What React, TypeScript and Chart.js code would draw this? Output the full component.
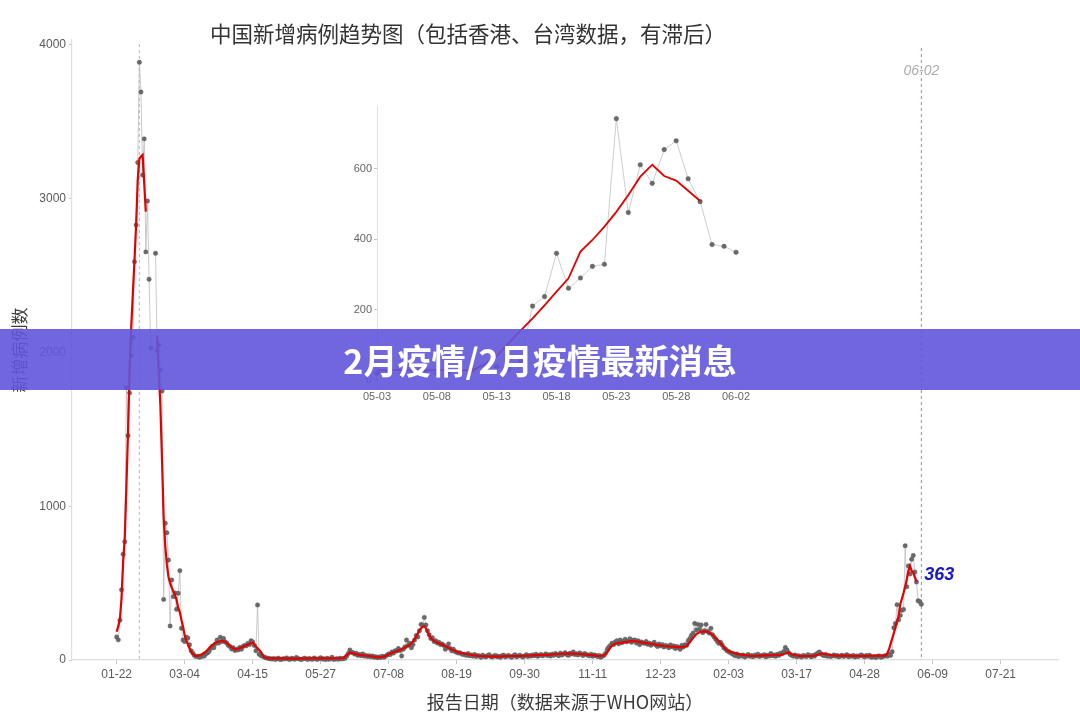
import React, { useEffect, useRef } from 'react';
import { Chart, registerables } from 'chart.js';

Chart.register(...registerables);

// ---------- texts ----------
const chartTitle = '中国新增病例趋势图（包括香港、台湾数据，有滞后）';
const xAxisTitle = '报告日期（数据来源于WHO网站）';
const yAxisTitle = '新增病例数';
const bannerText = '2月疫情/2月疫情最新消息';

// ---------- axes / ticks (x values are days since 2020-01-22) ----------
const mainTickDays = [0, 42, 84, 126, 168, 210, 252, 294, 336, 378, 420, 462, 504, 546];
const mainTickLabels = ['01-22', '03-04', '04-15', '05-27', '07-08', '08-19', '09-30', '11-11', '12-23', '02-03', '03-17', '04-28', '06-09', '07-21'];
const mainYTicks = [0, 1000, 2000, 3000, 4000];
const insetTickDays = [467, 472, 477, 482, 487, 492, 497];
const insetTickLabels = ['05-03', '05-08', '05-13', '05-18', '05-23', '05-28', '06-02'];
const insetYTicks = [0, 200, 400, 600];

const peakMarkerDay = 14;
const lastReportDay = 497;
const lastReportLabel = '06-02';
const lastReportValue = 363;

// ---------- daily new cases (grey points), by period ----------
const wave2020Start = 0;
const wave2020 = [150, 131, 259, 457, 688, 769, 1771, 1459, 1737, 1981, 2099, 2590, 2829, 3235, 3887, 3694, 3154, 3389, 2654, 2985, 2476, 2027, null, null, 2645, 2012, 2048, 1886, 1749, 394, 889, 828, 650, 221, 520, 412, 436, 330, 434, 581, 206, 130, 120, 148];
const spring2020Start = 44;
const spring2020 = [143, 99, 60, 45, 30, 22, 25, 18, 20, 28, 25, 40, 45, 55, 75, 90, 80, 105, 130, 110, 148, 120, 140, 118, 110, 95, 88, 72, 80, 62, 70, 65, 82, 70, 88, 95, 92, 108, 100, 125, 118, 95, 60, 358, 38, 30, 25, 20, 15, 12, 10, 8];
const flat2020Start = 96;
const flat2020 = [6, 10, 4, 8, 12, 3, 5, 9, 7, 14, 6, 4, 11, 8, 5, 17, 9, 6, 3, 7, 12, 8, 4, 10, 6, 5, 13, 7, 4, 9, 15, 6, 8, 3, 11, 5, 7, 18, 4, 6, 9, 5, 12, 7, 10];
const summer2020Start = 141;
const summer2020 = [11, 25, 42, 65, 50, 48, 38, 44, 30, 36, 28, 40, 25, 30, 22, 28, 20, 26, 18, 22, 15, 20, 16, 25, 18, 24, 32, 40, 35, 52, 45, 60, 58, 75, 62];
const hkWave2020Start = 176;
const hkWave2020 = [26, 70, 85, 130, 95, 110, 80, 100, 130, 160, 150, 190, 232, 227, 277, 228, 190, 165, 140, 145, 120, 125, 110, 115, 100, 105, 95, 70, 85, 105, 75, 60, 70, 55, 50, 45, 48, 40, 35, 38, 30, 42, 28, 33, 25, 36, 22, 30, 26, 18, 32, 24, 20, 28, 35, 22, 19, 26, 30, 21, 25, 17, 28, 32, 20];
const autumn2020Start = 241;
const autumn2020 = [25, 30, 22, 18, 28, 34, 20, 26, 31, 24, 19, 27, 35, 22, 30, 26, 33, 28, 38, 24, 30, 36, 27, 32, 40, 29, 34, 26, 38, 31, 42, 35, 28, 45, 33, 40, 48, 36, 30, 44, 39, 52, 35, 41, 33, 46, 38, 29, 42, 36, 31, 27, 38, 24, 33, 29, 22, 30, 18, 25];
const winter2020Start = 301;
const winter2020 = [30, 45, 70, 85, 95, 110, 100, 118, 125, 105, 130, 112, 120, 135, 118, 125, 138, 115, 128, 130, 110, 125, 100, 118, 112, 108, 120, 102, 110, 96, 105, 115, 98, 88, 104, 92, 100, 85, 95, 90, 80, 98, 86, 92, 75, 88, 80, 70, 95, 85];
const hebei2021Start = 351;
const hebei2021 = [100, 95, 125, 140, 160, 175, 238, 195, 232, 200, 228, 178, 190, 232, 185, 175, 206, 165, 150, 135, 120, 108, 115, 98, 80, 72, 60, 55, 48, 42];
const spring2021Start = 381;
const spring2021 = [35, 28, 40, 22, 30, 25, 33, 19, 27, 36, 24, 29, 21, 32, 26, 38, 23, 30, 27, 35, 20, 31, 26, 42, 28, 33, 24, 37, 30, 45, 40, 55, 82, 65, 48, 36, 30, 25, 33, 21, 28, 24, 19, 30, 26, 22, 35, 28, 20, 31, 25, 38, 45, 52, 40, 33, 28, 36, 24, 30, 22, 27, 33, 25, 29, 20, 26, 31, 23, 28, 35, 21, 27, 24, 30, 19, 26, 22, 28, 33, 25, 20, 29, 24, 31, 18];
const may2021Start = 467;
const may2021 = [19, 22, 16, 24, 27, 18, 21, 26, 28, 25, 38, 30, 54, 210, 237, 360, 261, 290, 323, 329, 743, 476, 612, 559, 655, 680, 572, 507, 385, 380, 363];

// ---------- smoothed trend (red line): [day, value] ----------
const trendPoints: [number, number | null][] = [
  [0, 184], [1, 220], [2, 270], [3, 400], [4, 640], [5, 800], [6, 1130], [7, 1480], [8, 1900], [9, 2170],
  [10, 2390], [11, 2600], [12, 2830], [13, 3120], [14, 3260], [15, 3275], [16, 3285], [17, 3100], [18, 2916],
  [21, null],
  [25, 2107], [26, 1880], [27, 1650], [28, 1300], [29, 930], [30, 740], [31, 620], [32, 540], [33, 500], [34, 470],
  [35, 445], [36, 425], [37, 390], [38, 340], [39, 310], [40, 260], [41, 217], [42, 160], [43, 130], [44, 100],
  [45, 75], [46, 54], [47, 40], [48, 30], [49, 26], [50, 27], [52, 33], [55, 54], [58, 87], [61, 113],
  [63, 120], [65, 124], [67, 119], [70, 91], [73, 69], [74, 70], [76, 76], [79, 91], [82, 104], [84, 113],
  [86, 87], [89, 54], [91, 17], [94, 11], [100, 10], [110, 9], [120, 11], [130, 10], [140, 12],
  [143, 40], [144, 48], [146, 43], [150, 33], [156, 26], [162, 17], [165, 22], [168, 38], [171, 50], [175, 65],
  [178, 80], [181, 98], [183, 120], [185, 152], [187, 195], [189, 217], [190, 220], [191, 205], [193, 160], [194, 141],
  [196, 125], [198, 113], [201, 100], [204, 85], [207, 68], [210, 54], [213, 45], [216, 39], [220, 32], [224, 26],
  [229, 24], [234, 22], [238, 24], [243, 26], [249, 26], [257, 30], [262, 33], [268, 35], [273, 39], [278, 43],
  [282, 41], [286, 39], [292, 33], [298, 26], [301, 30], [303, 50], [305, 82], [306, 95], [308, 106], [310, 111],
  [313, 115], [316, 120], [319, 124], [322, 119], [325, 113], [328, 108], [331, 104], [334, 97], [338, 91], [341, 88],
  [344, 87], [347, 84], [349, 82], [352, 91], [354, 115], [355, 130], [357, 155], [358, 169], [360, 180], [361, 184],
  [363, 186], [365, 184], [367, 172], [368, 163], [370, 142], [372, 122], [374, 95], [376, 70], [378, 57], [381, 48],
  [384, 38], [387, 33], [393, 26], [397, 28], [401, 30], [405, 31], [410, 33], [413, 42], [415, 48], [416, 42],
  [418, 33], [422, 26], [426, 26], [430, 26], [433, 33], [436, 43], [439, 36], [442, 30], [447, 29], [451, 28],
  [455, 27], [459, 26], [463, 27], [467, 28], [475, 28], [476, 45], [477, 68], [478, 105], [479, 140], [480, 175],
  [481, 212], [482, 251], [483, 289], [484, 365], [485, 398], [486, 436], [487, 478], [488, 526], [489, 578], [490, 612],
  [491, 580], [492, 567], [493, 538], [494, 509],
];

// ---------- build datasets ----------
const dailySegments: [number, (number | null)[]][] = [
  [wave2020Start, wave2020], [spring2020Start, spring2020], [flat2020Start, flat2020],
  [summer2020Start, summer2020], [hkWave2020Start, hkWave2020], [autumn2020Start, autumn2020],
  [winter2020Start, winter2020], [hebei2021Start, hebei2021], [spring2021Start, spring2021],
  [may2021Start, may2021],
];
const dailyPoints = dailySegments.flatMap(([start, vals]) => vals.map((v, i) => ({ x: start + i, y: v })));
const trendData = trendPoints.map(([x, y]) => ({ x, y }));
const insetDaily = may2021.map((v, i) => ({ x: may2021Start + i, y: v }));
const insetTrend = trendPoints.filter(([d]) => d >= may2021Start).map(([x, y]) => ({ x, y }));

const TICK_FONT = 'Liberation Sans';
const CJK_FONT = '"Noto Sans CJK SC", "Noto Sans", sans-serif';
const RED = 'rgb(226,0,0)';
const GREY_LINE = 'rgba(188,188,188,1)';
const GREY_POINT = '#6a6a6a';

const mainDecor = {
  id: 'mainDecor',
  beforeDatasetsDraw(chart: any) {
    const { ctx, chartArea, scales } = chart;
    const x = scales.x;
    ctx.save();
    ctx.lineWidth = 1;
    ctx.setLineDash([3, 3]);
    ctx.strokeStyle = '#b8b8b8';
    const px = x.getPixelForValue(peakMarkerDay);
    ctx.beginPath();
    ctx.moveTo(px, chartArea.top + 4);
    ctx.lineTo(px, chartArea.bottom);
    ctx.stroke();
    ctx.strokeStyle = 'rgb(140,130,240)';
    const bx = x.getPixelForValue(lastReportDay);
    ctx.beginPath();
    ctx.moveTo(bx, chartArea.top + 8);
    ctx.lineTo(bx, chartArea.bottom);
    ctx.stroke();
    ctx.restore();
  },
  afterDraw(chart: any) {
    const { ctx, chartArea, scales } = chart;
    const x = scales.x;
    const y = scales.y;
    ctx.save();
    // title
    ctx.fillStyle = '#333';
    ctx.font = `21.5px ${CJK_FONT}`;
    ctx.textAlign = 'center';
    ctx.textBaseline = 'middle';
    ctx.fillText(chartTitle, 468, 34);
    // x title
    ctx.font = `18px ${CJK_FONT}`;
    ctx.fillStyle = '#3a3a3a';
    ctx.fillText(xAxisTitle, (chartArea.left + chartArea.right) / 2, 702);
    // y title
    ctx.save();
    ctx.translate(20, (chartArea.top + chartArea.bottom) / 2);
    ctx.rotate(-Math.PI / 2);
    ctx.font = `17px ${CJK_FONT}`;
    ctx.fillText(yAxisTitle, 0, 0);
    ctx.restore();
    // last-report date label
    const bx = x.getPixelForValue(lastReportDay);
    ctx.font = `italic 14px ${TICK_FONT}`;
    ctx.fillStyle = '#acacac';
    ctx.textAlign = 'center';
    ctx.fillText(lastReportLabel, bx, chartArea.top + 31);
    // last value label
    ctx.font = `italic bold 18px ${TICK_FONT}`;
    ctx.fillStyle = 'rgb(24,24,205)';
    ctx.textAlign = 'left';
    ctx.fillText(String(lastReportValue), bx + 3, y.getPixelForValue(lastReportValue) - 29);
    ctx.restore();
  },
};

function MainChart() {
  const ref = useRef<HTMLCanvasElement | null>(null);
  useEffect(() => {
    if (!ref.current) return;
    const chart = new Chart(ref.current, {
      type: 'line',
      data: {
        datasets: [
          {
            label: 'trend',
            data: trendData as any,
            borderColor: RED,
            borderWidth: 2.2,
            pointRadius: 0,
            tension: 0,
            spanGaps: false,
            order: 0,
            clip: false as any,
          },
          {
            label: 'daily',
            data: dailyPoints as any,
            borderColor: GREY_LINE,
            borderWidth: 0.8,
            pointRadius: 2.2,
            pointBackgroundColor: GREY_POINT,
            pointBorderColor: '#555',
            pointBorderWidth: 0.4,
            tension: 0,
            spanGaps: false,
            order: 1,
            clip: false as any,
          },
        ],
      },
      options: {
        animation: false,
        responsive: false,
        maintainAspectRatio: false,
        events: [],
        layout: { padding: { left: 0, right: 22, top: 40, bottom: 0 } },
        plugins: { legend: { display: false }, tooltip: { enabled: false }, title: { display: false } },
        scales: {
          x: {
            type: 'linear',
            min: -27.6,
            max: 581.4,
            afterBuildTicks: (s: any) => { s.ticks = mainTickDays.map((v) => ({ value: v })); },
            afterFit: (s: any) => { s.height = 60; },
            grid: { drawOnChartArea: false, drawTicks: true, tickLength: 4, color: '#c4c4c4' },
            border: { color: '#dedede', width: 1.2 },
            ticks: {
              autoSkip: false,
              maxRotation: 0,
              padding: 3,
              color: '#5a5a5a',
              font: { family: TICK_FONT, size: 12 },
              callback: (v: any) => mainTickLabels[mainTickDays.indexOf(Number(v))] ?? '',
            },
          },
          y: {
            type: 'linear',
            min: 0,
            max: 4032,
            afterBuildTicks: (s: any) => { s.ticks = mainYTicks.map((v) => ({ value: v })); },
            afterFit: (s: any) => { s.width = 72; },
            grid: { drawOnChartArea: false, drawTicks: true, tickLength: 3, color: '#c4c4c4' },
            border: { color: '#dedede', width: 1.2 },
            ticks: {
              padding: 3,
              color: '#5a5a5a',
              font: { family: TICK_FONT, size: 12 },
              callback: (v: any) => String(v),
            },
          },
        },
      },
      plugins: [mainDecor],
    });
    return () => chart.destroy();
  }, []);
  return <canvas ref={ref} width={1080} height={720} style={{ position: 'absolute', left: 0, top: 0, width: 1080, height: 720 }} />;
}

function InsetChart() {
  const ref = useRef<HTMLCanvasElement | null>(null);
  useEffect(() => {
    if (!ref.current) return;
    const chart = new Chart(ref.current, {
      type: 'line',
      data: {
        datasets: [
          {
            label: 'trend',
            data: insetTrend as any,
            borderColor: RED,
            borderWidth: 1.8,
            pointRadius: 0,
            tension: 0,
            order: 0,
            clip: false as any,
          },
          {
            label: 'daily',
            data: insetDaily as any,
            borderColor: 'rgba(192,192,192,1)',
            borderWidth: 0.8,
            pointRadius: 2.3,
            pointBackgroundColor: GREY_POINT,
            pointBorderColor: '#555',
            pointBorderWidth: 0.4,
            tension: 0,
            order: 1,
            clip: false as any,
          },
        ],
      },
      options: {
        animation: false,
        responsive: false,
        maintainAspectRatio: false,
        events: [],
        layout: { padding: { left: 0, right: 12, top: 11, bottom: 0 } },
        plugins: { legend: { display: false }, tooltip: { enabled: false }, title: { display: false } },
        scales: {
          x: {
            type: 'linear',
            min: 467,
            max: 498,
            afterBuildTicks: (s: any) => { s.ticks = insetTickDays.map((v) => ({ value: v })); },
            afterFit: (s: any) => { s.height = 28; },
            grid: { drawOnChartArea: false, drawTicks: true, tickLength: 3, color: '#c4c4c4' },
            border: { color: '#e2e2e2', width: 1 },
            ticks: {
              autoSkip: false,
              maxRotation: 0,
              padding: 0,
              color: '#666',
              font: { family: TICK_FONT, size: 11 },
              callback: (v: any) => insetTickLabels[insetTickDays.indexOf(Number(v))] ?? '',
            },
          },
          y: {
            type: 'linear',
            min: -20,
            max: 779,
            afterBuildTicks: (s: any) => { s.ticks = insetYTicks.map((v) => ({ value: v })); },
            afterFit: (s: any) => { s.width = 57; },
            grid: { drawOnChartArea: false, drawTicks: true, tickLength: 3, color: '#c4c4c4' },
            border: { color: '#e2e2e2', width: 1 },
            ticks: {
              padding: 2,
              color: '#666',
              font: { family: TICK_FONT, size: 11 },
              callback: (v: any) => String(v),
            },
          },
        },
      },
    });
    return () => chart.destroy();
  }, []);
  return <canvas ref={ref} width={440} height={320} style={{ position: 'absolute', left: 320, top: 95, width: 440, height: 320 }} />;
}

export default function App() {
  return (
    <div style={{ position: 'absolute', left: 0, top: 0, width: 1080, height: 720, background: '#fff', overflow: 'hidden' }}>
      <MainChart />
      <InsetChart />
      <div
        style={{
          position: 'absolute',
          left: 0,
          top: 329,
          width: 1080,
          height: 61,
          background: 'rgba(96,86,218,0.9)',
          display: 'flex',
          alignItems: 'center',
          justifyContent: 'center',
          color: '#fff',
          fontFamily: CJK_FONT,
          fontWeight: 700,
          fontSize: 34,
          lineHeight: 1,
        }}
      >
        {bannerText}
      </div>
    </div>
  );
}
